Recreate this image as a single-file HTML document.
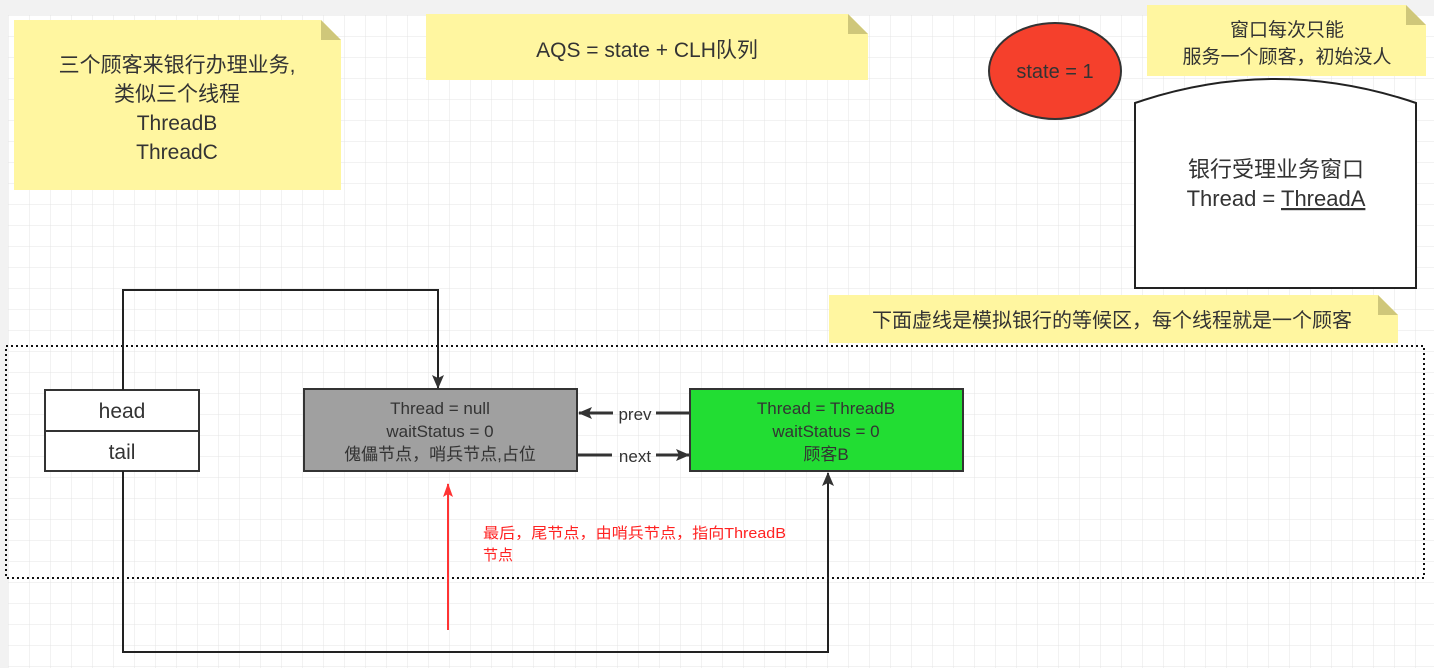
<!DOCTYPE html>
<html><head><meta charset="utf-8"><style>
body{margin:0;width:1434px;height:668px;overflow:hidden;background:#f2f2f2;font-family:"Liberation Sans","Noto Sans CJK SC",sans-serif;}
</style></head><body>
<svg width="1434" height="668" xmlns="http://www.w3.org/2000/svg" style="position:absolute;left:0;top:0">
<defs>
<pattern id="g" x="8" y="15" width="21" height="21" patternUnits="userSpaceOnUse">
<path d="M21 0H0V21" fill="none" stroke="#e4e4e4" stroke-width="1"/>
</pattern>
<marker id="a" markerWidth="14" markerHeight="14" refX="13" refY="7" orient="auto" markerUnits="userSpaceOnUse">
<path d="M0,1 L14,7 L0,13 L3,7 Z" fill="#333"/></marker>
<marker id="r" markerWidth="14" markerHeight="14" refX="13" refY="7" orient="auto" markerUnits="userSpaceOnUse">
<path d="M0,2 L14,7 L0,12 L3,7 Z" fill="#f33"/></marker>
</defs>
<rect x="8" y="15" width="1426" height="653" fill="#fff"/>
<rect x="8" y="15" width="1426" height="653" fill="url(#g)"/>
<g font-family="Liberation Sans, Noto Sans CJK SC, sans-serif" fill="#333" text-anchor="middle">
<path d="M14 20H321L341 40V190H14Z" fill="#fff6a0"/><path d="M321 20V40H341Z" fill="#cfc77a"/>
<text font-size="21" x="177" y="72">三个顾客来银行办理业务,</text>
<text font-size="21" x="177" y="101">类似三个线程</text>
<text font-size="21" x="177" y="130">ThreadB</text>
<text font-size="21" x="177" y="159">ThreadC</text>
<path d="M426 14H848L868 34V80H426Z" fill="#fff6a0"/><path d="M848 14V34H868Z" fill="#cfc77a"/>
<text font-size="21" x="647" y="57">AQS = state + CLH队列</text>
<ellipse cx="1055" cy="71" rx="66" ry="48" fill="#f5402c" stroke="#333" stroke-width="2"/>
<text font-size="20" x="1055" y="78">state = 1</text>
<path d="M1147 5H1406L1426 25V76H1147Z" fill="#fff6a0"/><path d="M1406 5V25H1426Z" fill="#cfc77a"/>
<text font-size="19" x="1287" y="36">窗口每次只能</text>
<text font-size="19" x="1287" y="63">服务一个顾客，初始没人</text>
<path d="M1135 103Q1275 55 1416 103V288H1135Z" fill="#fff" stroke="#222" stroke-width="2"/>
<text font-size="22" x="1276" y="177">银行受理业务窗口</text>
<text font-size="22" x="1276" y="206">Thread = <tspan text-decoration="underline">ThreadA</tspan></text>
<path d="M829 295H1378L1398 315V343H829Z" fill="#fff6a0"/><path d="M1378 295V315H1398Z" fill="#cfc77a"/>
<text font-size="20" x="1112" y="327">下面虚线是模拟银行的等候区，每个线程就是一个顾客</text>
<rect x="6" y="346" width="1418" height="232" fill="none" stroke="#111" stroke-width="2" stroke-dasharray="2,3"/>
<rect x="45" y="390" width="154" height="81" fill="#fff" stroke="#333" stroke-width="2"/>
<line x1="45" y1="431" x2="199" y2="431" stroke="#333" stroke-width="2"/>
<text font-size="21" x="122" y="418">head</text>
<text font-size="21" x="122" y="459">tail</text>
<rect x="304" y="389" width="273" height="82" fill="#a0a0a0" stroke="#333" stroke-width="2"/>
<text font-size="17" x="440" y="414">Thread = null</text>
<text font-size="17" x="440" y="437">waitStatus = 0</text>
<text font-size="17" x="440" y="460">傀儡节点，哨兵节点,占位</text>
<rect x="690" y="389" width="273" height="82" fill="#22dd33" stroke="#333" stroke-width="2"/>
<text font-size="17" x="826" y="414">Thread = ThreadB</text>
<text font-size="17" x="826" y="437">waitStatus = 0</text>
<text font-size="17" x="826" y="460">顾客B</text>
<line x1="690" y1="413" x2="656" y2="413" stroke="#333" stroke-width="3"/>
<line x1="613" y1="413" x2="579" y2="413" stroke="#333" stroke-width="3" marker-end="url(#a)"/>
<text font-size="17" x="635" y="420">prev</text>
<line x1="577" y1="455" x2="612" y2="455" stroke="#333" stroke-width="3"/>
<line x1="656" y1="455" x2="689" y2="455" stroke="#333" stroke-width="3" marker-end="url(#a)"/>
<text font-size="17" x="635" y="462">next</text>
<polyline points="123,390 123,290 438,290 438,388" fill="none" stroke="#222" stroke-width="2" marker-end="url(#a)"/>
<polyline points="123,471 123,652 828,652 828,473" fill="none" stroke="#222" stroke-width="2" marker-end="url(#a)"/>
<line x1="448" y1="630" x2="448" y2="484" stroke="#f33" stroke-width="2" marker-end="url(#r)"/>
<text font-size="15" fill="#f22" text-anchor="start" x="483" y="538" textLength="303" lengthAdjust="spacingAndGlyphs">最后，尾节点，由哨兵节点，指向ThreadB</text>
<text font-size="15" fill="#f22" text-anchor="start" x="483" y="560">节点</text>
</g>
</svg>
</body></html>
